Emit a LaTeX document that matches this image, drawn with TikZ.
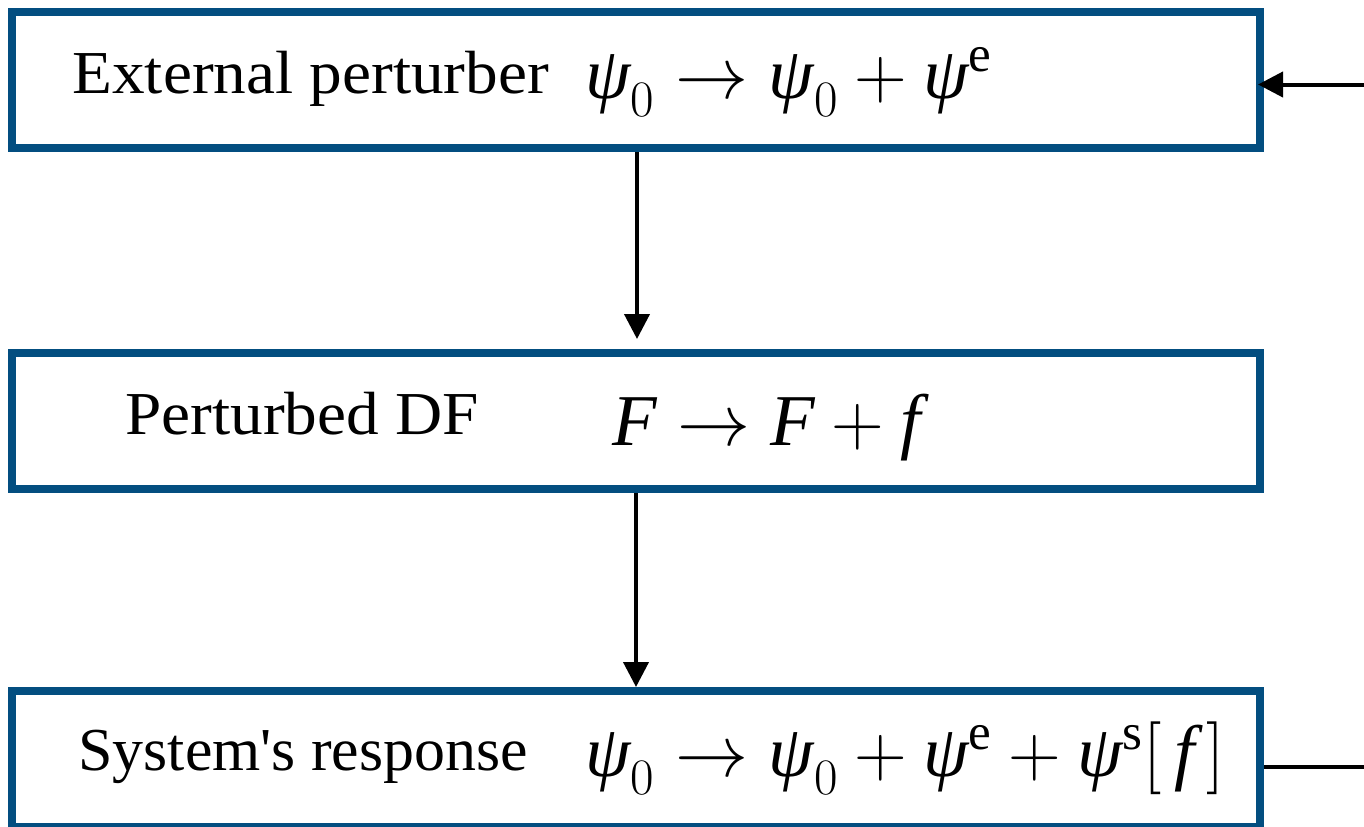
\RequirePackage{fix-cm}
\documentclass[tikz,border=0pt]{standalone}
\usepackage{amsmath}
\usepackage{fontspec}
\setmainfont{Liberation Serif}
\usetikzlibrary{arrows.meta}
\definecolor{boxblue}{RGB}{3,78,128}
\newcommand\mpsi{\text{\itshape ψ}}
\newcommand\mF{\text{\itshape F}}
\newcommand\mf{\text{\itshape f}}
\tikzset{
  stagebox/.style={draw=boxblue, line width=4pt, minimum width=624pt, inner sep=0pt},
  labeltext/.style={anchor=base west, inner sep=0pt, font=\fontsize{30.5}{36}\selectfont\addfontfeature{FakeStretch=#1}},
  labeltext/.default=1.07,
  mathtext/.style={anchor=base west, inner sep=0pt, font=\fontsize{36.5}{42}\selectfont},
  flow/.style={line width=2pt, -{Triangle[width=12.5pt,length=12.5pt]}},
}
\begin{document}
\begin{tikzpicture}[x=0.5pt, y=-0.5pt]
\useasboundingbox (0,0) rectangle (1364,826);
\node[stagebox, minimum height=68.25pt] (top) at (636,79.75) {};
\node[stagebox, minimum height=68.25pt] (mid) at (636,420.75) {};
\node[stagebox, minimum height=68pt] (bot) at (636,759) {};
\node[labeltext] (t1) at (72,93) {External perturber};
\node[mathtext] (m1) at (585,98) {$\mpsi_{0} \rightarrow \mpsi_{0} + \mpsi^{\mathrm{e}}$};
\node[labeltext] (t2) at (125,434) {Perturbed DF};
\node[mathtext] (m2) at (612,445) {$\mF \rightarrow \mF + \mf$};
\node[labeltext=1.015] (t3) at (78,770) {System\textquotesingle s response};
\node[mathtext] (m3) at (585,776) {$\mpsi_{0} \rightarrow \mpsi_{0} + \mpsi^{\mathrm{e}} + \mpsi^{\mathrm{s}}[\,\mf\,]$};
\coordinate (fin) at (1364,84.5);
\coordinate (fout) at (1364,767);
\draw[flow, shorten >=4.75pt] ([xshift=0.5pt]top.south) -- ([xshift=0.5pt]mid.north);
\draw[flow] (mid.south) -- (bot.north);
\draw[flow, shorten >=-3pt] (fin) -- (fin -| top.east);
\draw[line width=2pt] (fout -| bot.east) -- (fout);
\end{tikzpicture}
\end{document}
